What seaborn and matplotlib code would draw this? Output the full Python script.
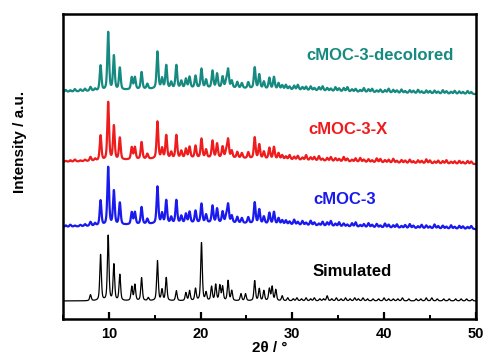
import numpy as np
import pandas as pd
import seaborn as sns
import matplotlib
matplotlib.use("Agg")
import matplotlib.pyplot as plt
from matplotlib.ticker import MultipleLocator

# peak list: 2theta (deg) and height (a.u.)
sim_pos = [8.0, 9.1, 9.93, 10.55, 11.2, 12.5, 12.84, 13.57, 14.3, 15.3, 15.8, 16.26,
           17.36, 18.4, 18.8, 19.45, 20.1, 20.6, 21.2, 21.65, 22.1, 22.4, 23.0,
           23.4, 24.4, 24.9, 25.9, 26.4, 26.9, 27.5, 27.8, 28.2, 28.9, 29.5,
           30.1, 30.5, 31.0, 31.5, 32.0, 32.4, 33.0, 33.4, 33.8, 34.3, 34.8,
           35.3, 35.8, 36.3, 36.8, 37.2, 37.7, 38.2, 38.8, 39.4, 40.0, 40.5,
           41.0, 41.5, 42.0, 42.7, 43.5, 44.0, 44.6, 45.2, 45.8, 46.5, 47.1,
           47.8, 48.4, 49.0, 49.6]
sim_h = [6, 46, 65, 36, 26, 14, 16, 23, 3, 40, 11, 23,
         10, 8, 10, 12, 58, 8, 14, 16, 15, 14, 20,
         10, 7, 7, 20, 12, 10, 12, 14, 11, 5, 3,
         2, 3, 2, 3, 2, 3, 2, 2, 5, 2, 3,
         2, 3, 2, 3, 2, 3, 2, 2, 2, 3, 2,
         2, 2, 3, 2, 2, 2, 3, 3, 2, 2, 2,
         2, 2, 2, 1.5]

# experimental peaks (as-synthesised, X and decolored look alike)
exp_pos = [8.0, 9.1, 9.93, 10.55, 11.2, 12.5, 12.84, 13.57, 14.2, 15.3, 15.8, 16.26,
           16.8, 17.36, 17.9, 18.4, 18.8, 19.45, 20.1, 20.6, 21.3, 21.8, 22.4,
           22.8, 23.0, 23.4, 24.0, 24.5, 25.2, 25.9, 26.4, 26.9, 27.5, 28.0,
           28.5, 28.9, 21.0]
exp_h = [4, 25, 58, 34, 22, 12, 12, 17, 5, 37, 10, 23,
         6, 23, 7, 9, 11, 12, 19, 8, 17, 14, 11,
         7, 18, 7, 6, 5, 6, 21, 14, 7, 11, 12,
         6, 4, 7]
exp_w = [0.22] * 36 + [28.0]

# small wiggles of the noisy parts, shared positions, one height list per sample
noise_pos = [5.3, 5.8, 6.3, 6.9, 7.4, 8.5, 29.3, 29.7, 30.2, 30.6, 31.1, 31.5,
             32.0, 32.4, 32.9, 33.3, 33.8, 34.2, 34.7, 35.1, 35.6, 36.0, 36.5,
             36.9, 37.4, 37.8, 38.3, 38.7, 39.2, 39.6, 40.1, 40.5, 41.0, 41.4,
             41.9, 42.3, 42.8, 43.2, 43.7, 44.1, 44.6, 45.0, 45.5, 45.9, 46.4,
             46.8, 47.3, 47.7, 48.2, 48.6, 49.1, 49.5]
noise_blue = [1.5, 2, 1, 1.5, 2, 2.5, 4, 3, 5, 3, 4, 2.5,
              4.5, 3, 2, 4, 3.5, 5, 2.5, 4, 3, 2, 3.5,
              4.5, 2, 3, 4, 2.5, 3.5, 2, 4, 3, 2.5, 3.5,
              2, 3, 4, 2.5, 2, 3.5, 3, 2, 4, 2.5, 3,
              2, 3.5, 2, 3, 2.5, 2, 3]
noise_red = [1, 1.5, 2, 1, 1.5, 2, 3, 4.5, 3, 4, 2.5, 5,
             3, 3.5, 4.5, 2, 3, 4, 3, 2.5, 4.5, 3, 2,
             3.5, 4, 2.5, 3, 2, 4, 3.5, 2.5, 3, 4, 2,
             3, 2.5, 3.5, 2, 3, 2.5, 4, 3, 2, 3, 2.5,
             3.5, 2, 2.5, 3, 2, 3, 2.5]
noise_teal = [2, 1.5, 2.5, 2, 2.5, 2, 4.5, 3, 4, 5, 3, 3.5,
              4, 2.5, 3.5, 4.5, 3, 2.5, 4, 3, 3.5, 4.5, 2.5,
              3, 2, 4, 3, 3.5, 2, 3, 2.5, 4, 3, 2.5,
              3.5, 2, 3, 2.5, 3.5, 2, 3, 2.5, 3, 2, 3.5,
              2.5, 2, 3, 2.5, 2, 3, 2]

samples = ["Simulated", "cMOC-3", "cMOC-3-X", "cMOC-3-decolored"]
offsets = [18, 89, 154, 224]
colors = ["#000000", "#1a1aee", "#ee1c1c", "#168a80"]
label_x = [32.2, 32.3, 31.75, 31.5]
label_y = [47, 119, 190, 264]

x = np.linspace(5, 50, 4501)


def pattern(pos, h, w):
    y = np.zeros_like(x)
    for p, a, f in zip(pos, h, w):
        d = (x - p) / f
        y += a * (0.5 / (1 + 4 * d ** 2) + 0.5 * np.exp(-4 * np.log(2) * d ** 2))
    return y


traces = [pattern(sim_pos, sim_h, [0.2] * len(sim_pos))]
for nz in [noise_blue, noise_red, noise_teal]:
    traces.append(pattern(exp_pos + noise_pos, exp_h + nz, exp_w + [0.22] * len(noise_pos)))

df = pd.concat([pd.DataFrame({"two_theta": x, "intensity": t + o, "sample": s})
                for t, o, s in zip(traces, offsets, samples)])

sns.set_style("ticks")
plt.rcParams["font.family"] = ["Liberation Sans", "DejaVu Sans"]
plt.rcParams["font.weight"] = "bold"

fig = plt.figure(figsize=(4.88, 3.6), dpi=100)
ax = fig.add_axes([0.129, 0.114, 0.846, 0.847])

for s, c, lw in zip(samples, colors, [0.9, 1.6, 1.6, 1.6]):
    sns.lineplot(data=df[df["sample"] == s], x="two_theta", y="intensity",
                 color=c, linewidth=lw, ax=ax, legend=False)

for s, c, lx, ly in zip(samples, colors, label_x, label_y):
    ax.text(lx, ly, s, color=c, fontsize=12, fontweight="bold", va="center", ha="left")

ax.set_xlim(5, 50)
ax.set_ylim(0, 305)
ax.set_yticks([])
ax.xaxis.set_major_locator(MultipleLocator(10))
ax.xaxis.set_minor_locator(MultipleLocator(5))
ax.tick_params(axis="x", which="major", direction="in", length=5, width=1.6,
               labelsize=10.5, pad=6, color="black", labelcolor="black")
ax.tick_params(axis="x", which="minor", direction="in", length=3, width=1.4, color="black")
for lab in ax.get_xticklabels():
    lab.set_fontweight("bold")
for sp in ax.spines.values():
    sp.set_linewidth(1.8)
    sp.set_color("black")

ax.set_xlabel("2θ / °", fontsize=11, fontweight="bold", labelpad=0, color="black")
ax.set_ylabel("Intensity / a.u.", fontsize=11, fontweight="bold", color="black")
ax.yaxis.set_label_coords(-0.088, 0.58)

fig.savefig("out.png", dpi=100)
